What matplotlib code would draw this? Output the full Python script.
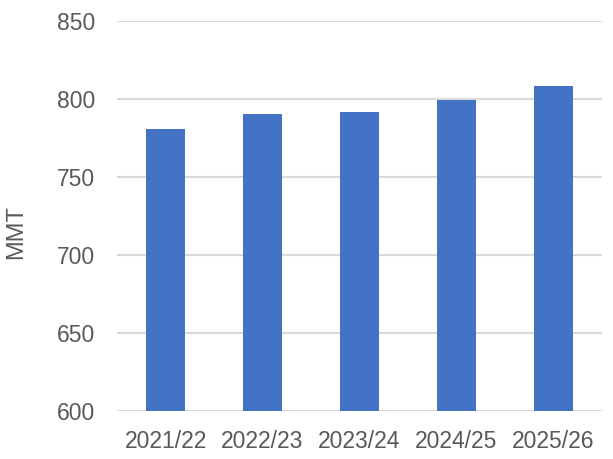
import matplotlib
matplotlib.use("Agg")
import matplotlib.pyplot as plt

categories = ["2021/22", "2022/23", "2023/24", "2024/25", "2025/26"]
values = [780.6, 790.3, 791.6, 799.5, 808.2]
yticks = [600, 650, 700, 750, 800, 850]

plt.rcParams['font.family'] = ['Liberation Sans', 'DejaVu Sans']
fig = plt.figure(figsize=(6.13, 4.59), dpi=100)
ax = fig.add_axes([0.191, 0.1046, 0.791, 0.8497])

ax.bar(range(len(categories)), values, width=0.4, color="#4472C4", zorder=3)
ax.set_ylim(600, 850)
ax.set_xlim(-0.5, len(categories) - 0.5)
ax.set_yticks(yticks)
ax.set_xticks(range(len(categories)))
ax.set_xticklabels(categories)
ax.grid(axis='y', color="#d9d9d9", linewidth=1.5, zorder=0)
for s in ax.spines.values():
    s.set_visible(False)
ax.tick_params(axis='both', length=0, labelsize=16.5, labelcolor="#595959")
ax.tick_params(axis='y', pad=16)
ax.tick_params(axis='x', pad=14)
ax.set_ylabel("MMT", fontsize=17, color="#595959")
ax.yaxis.set_label_coords(-0.186, 0.46)

fig.savefig("out.png", dpi=100)
